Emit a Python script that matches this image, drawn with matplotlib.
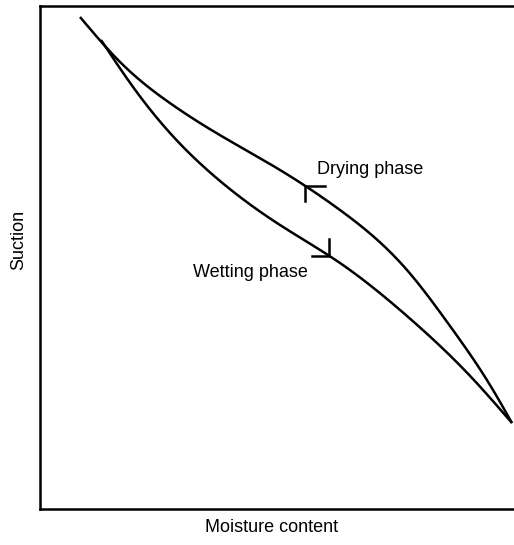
import matplotlib.pyplot as plt
import numpy as np

# Soil water characteristic: suction vs moisture content (arbitrary units, 0-100)
drying_moisture = [8.33, 16.67, 26.46, 36.04, 50.00, 62.50, 76.46, 85.42, 93.75, 98.33]
drying_suction = [97.81, 88.87, 81.11, 75.15, 67.40, 59.44, 47.51, 36.38, 24.65, 17.10]

wetting_moisture = [12.71, 19.38, 27.08, 36.04, 50.00, 62.50, 76.46, 90.21, 98.33]
wetting_suction = [93.24, 83.90, 74.75, 66.40, 56.46, 48.91, 38.37, 25.84, 17.10]

# where the direction ticks sit on each branch
drying_arrow_x = 55.2
wetting_arrow_x = 60.2

plt.rcParams['font.family'] = ['Liberation Sans', 'DejaVu Sans']


# natural cubic spline through the points so each branch draws smoothly
def smooth(xs, ys, n=400):
    x = np.asarray(xs, float)
    y = np.asarray(ys, float)
    k = len(x)
    h = np.diff(x)
    A = np.zeros((k, k))
    b = np.zeros(k)
    A[0, 0] = A[-1, -1] = 1
    for i in range(1, k - 1):
        A[i, i - 1] = h[i - 1]
        A[i, i] = 2 * (h[i - 1] + h[i])
        A[i, i + 1] = h[i]
        b[i] = 6 * ((y[i + 1] - y[i]) / h[i] - (y[i] - y[i - 1]) / h[i - 1])
    m = np.linalg.solve(A, b)
    xx = np.linspace(x[0], x[-1], n)
    j = np.clip(np.searchsorted(x, xx) - 1, 0, k - 2)
    t0 = x[j + 1] - xx
    t1 = xx - x[j]
    hj = h[j]
    yy = (m[j] * t0 ** 3 / (6 * hj) + m[j + 1] * t1 ** 3 / (6 * hj)
          + (y[j] / hj - m[j] * hj / 6) * t0 + (y[j + 1] / hj - m[j + 1] * hj / 6) * t1)
    return xx, yy


fig = plt.figure(figsize=(5.14, 5.45), dpi=100)
ax = fig.add_axes([40 / 514, 36 / 545, 480 / 514, 503 / 545])
ax.set_xlim(0, 100)
ax.set_ylim(0, 100)

lw = 1.8
drying = smooth(drying_moisture, drying_suction)
wetting = smooth(wetting_moisture, wetting_suction)
for sx, sy in [drying, wetting]:
    ax.plot(sx, sy, color='black', lw=lw, solid_capstyle='butt')

# drying: tick corner opens up-left (moving towards drier soil)
dy = np.interp(drying_arrow_x, *drying)
ax.plot([drying_arrow_x + 4.2, drying_arrow_x, drying_arrow_x],
        [dy, dy, dy - 3.0], color='black', lw=lw, solid_joinstyle='miter')
# wetting: tick corner points down-right
wy = np.interp(wetting_arrow_x, *wetting)
ax.plot([wetting_arrow_x - 3.6, wetting_arrow_x, wetting_arrow_x],
        [wy, wy, wy + 3.4], color='black', lw=lw, solid_joinstyle='miter')

ax.text(57.7, 67.4, 'Drying phase', fontsize=13, va='center', ha='left')
ax.text(31.9, 47.1, 'Wetting phase', fontsize=13, va='center', ha='left')

ax.set_xticks([])
ax.set_yticks([])
for side in ['left', 'bottom', 'top']:
    ax.spines[side].set_linewidth(1.8)
ax.spines['right'].set_visible(False)

fig.text(272 / 514, 1 - 528 / 545, 'Moisture content', fontsize=13,
         ha='center', va='center')
fig.text(19 / 514, 1 - 240 / 545, 'Suction', fontsize=13, rotation=90,
         ha='center', va='center')

fig.savefig('out.png', dpi=100)
